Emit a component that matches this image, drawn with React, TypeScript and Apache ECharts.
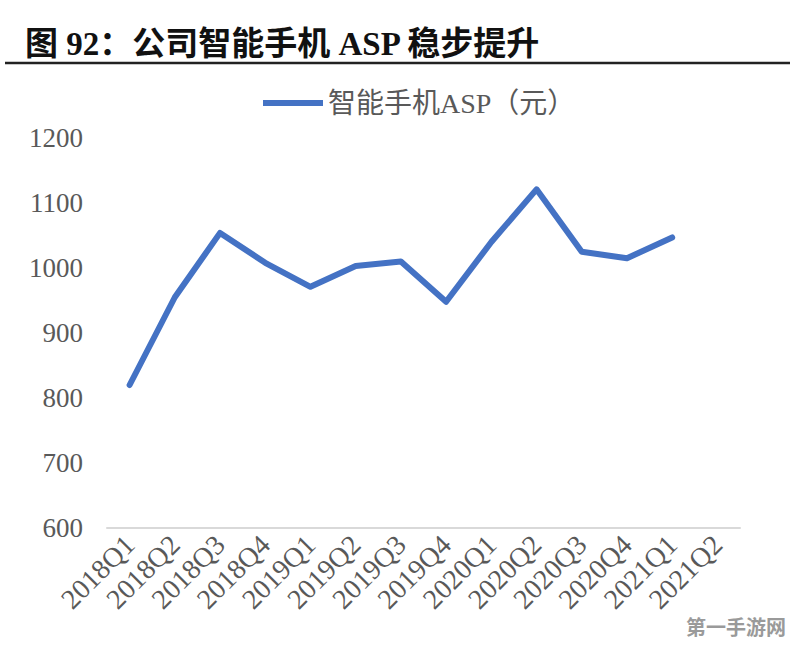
import React, { useEffect, useRef } from "react";
import * as echarts from "echarts";

const categories = [
  "2018Q1", "2018Q2", "2018Q3", "2018Q4",
  "2019Q1", "2019Q2", "2019Q3", "2019Q4",
  "2020Q1", "2020Q2", "2020Q3", "2020Q4",
  "2021Q1", "2021Q2",
];
const aspValues: (number | null)[] = [
  820, 955, 1054, 1008, 971, 1003, 1010, 948, 1040, 1121, 1025, 1015, 1047, null,
];
const seriesName = "智能手机ASP（元）";
const titleText = "图 92：公司智能手机 ASP 稳步提升";

const serif = '"Liberation Serif", "Times New Roman", "Noto Sans CJK SC", serif';

export default function App() {
  const ref = useRef<HTMLDivElement>(null);
  useEffect(() => {
    if (!ref.current) return;
    const chart = echarts.init(ref.current, null, { renderer: "svg" });
    chart.setOption({
      animation: false,
      backgroundColor: "#ffffff",
      title: {
        text: titleText,
        left: 20,
        top: 22,
        textStyle: {
          fontFamily: serif,
          fontWeight: "bold",
          fontSize: 33,
          color: "#111111",
        },
      },
      graphic: [
        {
          type: "line",
          shape: { x1: 5, y1: 63, x2: 790, y2: 63 },
          style: { stroke: "#222222", lineWidth: 2.5 },
        },
        {
          type: "text",
          left: 686,
          top: 616,
          style: {
            text: "第一手游网",
            fontSize: 20,
            fontWeight: "bold",
            fontFamily: '"Noto Sans CJK SC", sans-serif',
            fill: "#9a9a9a",
          },
        },
      ],
      legend: {
        top: 84,
        left: 258,
        itemWidth: 60,
        itemHeight: 6,
        itemGap: 10,
        data: [{ name: seriesName, icon: "path://M0,0 L60,0 L60,6 L0,6 Z" }],
        textStyle: {
          fontFamily: serif,
          fontSize: 28,
          color: "#595959",
        },
      },
      grid: {
        left: 107,
        right: 56,
        top: 138,
        bottom: 119,
        containLabel: false,
      },
      xAxis: {
        type: "category",
        data: categories,
        boundaryGap: true,
        axisLine: { show: true, lineStyle: { color: "#d9d9d9", width: 2 } },
        axisTick: { show: false },
        axisLabel: {
          rotate: 45,
          interval: 0,
          margin: 12,
          fontFamily: serif,
          fontSize: 28,
          color: "#595959",
        },
      },
      yAxis: {
        type: "value",
        min: 600,
        max: 1200,
        interval: 100,
        axisLine: { show: false },
        axisTick: { show: false },
        splitLine: { show: false },
        axisLabel: {
          margin: 24,
          fontFamily: serif,
          fontSize: 27,
          color: "#595959",
          formatter: (v: number) => String(v),
        },
      },
      series: [
        {
          name: seriesName,
          type: "line",
          data: aspValues,
          symbol: "none",
          lineStyle: { color: "#4472C4", width: 6, cap: "round", join: "round" },
          itemStyle: { color: "#4472C4" },
        },
      ],
    });
    return () => chart.dispose();
  }, []);
  return (
    <div
      ref={ref}
      style={{ position: "fixed", left: 0, top: 0, width: 796, height: 647 }}
    />
  );
}
